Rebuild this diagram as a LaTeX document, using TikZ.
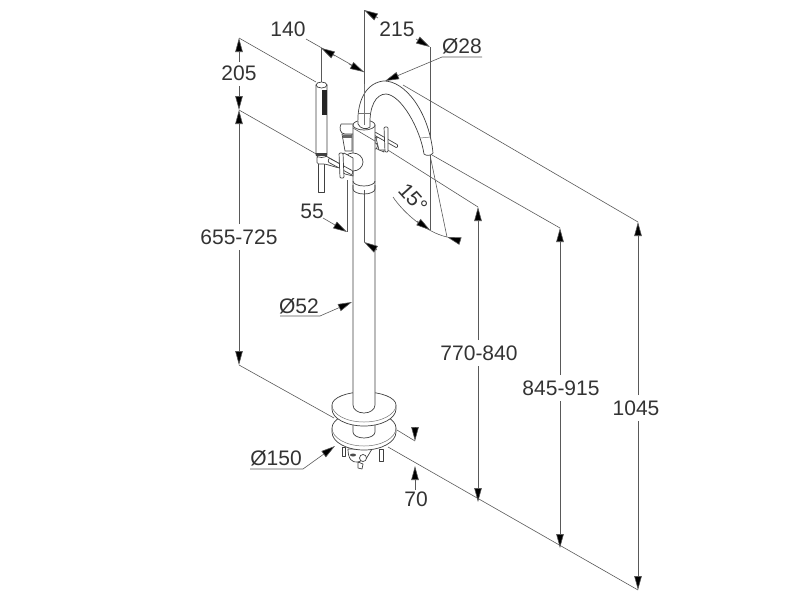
\documentclass[tikz,border=0pt]{standalone}
\usepackage{fontspec}
\setmainfont{Liberation Sans}
\usetikzlibrary{arrows.meta}
\definecolor{ink}{gray}{0.2}
\tikzset{
  dimline/.style={draw=black!65,line width=0.6pt},
  tip/.style={-{Triangle[length=14pt,width=7.5pt,fill=black]}},
  lab/.style={text=ink,font=\fontsize{21}{22}\selectfont,inner sep=0pt},
  part/.style={draw=black!75,line width=0.7pt,fill=white,line join=round},
  edge/.style={draw=black!75,line width=0.7pt},
  thin part/.style={draw=black!55,line width=0.5pt}
}
\begin{document}
\begin{tikzpicture}[x=1pt,y=-1pt]
\useasboundingbox (0,0) rectangle (800,600);
% labels
\node[lab] (t140) at (288,29) {140};
\node[lab] (t215) at (397,29) {215};
\node[lab] (t28) at (462,46) {Ø28};
\node[lab] (t205) at (239,73) {205};
\node[lab] (t655) at (239,237) {655-725};
\node[lab] (t55) at (312,211) {55};
\node[lab] (t52) at (299,306) {Ø52};
\node[lab] (t770) at (479,353) {770-840};
\node[lab] (t845) at (561,388) {845-915};
\node[lab] (t1045) at (636,408) {1045};
\node[lab] (t150) at (276,458) {Ø150};
\node[lab] (t70) at (416,499) {70};
\node[lab,rotate=-48] (t15) at (413,198) {15°};
% coordinates
\coordinate (a) at (239,38);
\coordinate (b) at (239,110);
\coordinate (c) at (239,365);
\coordinate (p1) at (478,207);
\coordinate (p2) at (478,502);
\coordinate (q1) at (560,228);
\coordinate (q2) at (560,548);
\coordinate (r1) at (638,222);
\coordinate (r2) at (638,590);
% extension lines
\draw[dimline] (a) -- (316,82);
\draw[dimline] (b) -- (318,155);
\draw[dimline] (353,128) -- (p1);
\draw[dimline] (c) -- (334,418);
\draw[dimline] (388,447) -- (r2);
\draw[dimline] (403,85) -- (r1);
\draw[dimline] (432,155) -- (q1);
\draw[dimline] (397,430) -- (415,441);
% vertical dimensions
\draw[dimline,tip] (239,62) -- (a);
\draw[dimline,tip] (239,86) -- (b);
\draw[dimline,tip] (239,224) -- (b);
\draw[dimline,tip] (239,250) -- (c);
\draw[dimline,tip] (478,340) -- (p1);
\draw[dimline,tip] (478,366) -- (p2);
\draw[dimline,tip] (560,375) -- (q1);
\draw[dimline,tip] (560,401) -- (q2);
\draw[dimline,tip] (638,395) -- (r1);
\draw[dimline,tip] (638,421) -- (r2);
% iso dims top
\coordinate (k1) at (321,48);
\coordinate (k2) at (364,72);
\coordinate (m1) at (364,10);
\coordinate (m2) at (430,47);
\coordinate (n1) at (430,230);
\coordinate (n2) at (447,237);
\draw[dimline] (306,39) -- (k2);
\draw[dimline,tip] (335,56) -- (k1);
\draw[dimline,tip] (349,64) -- (k2);
\draw[dimline] (k1) -- (321,82);
\draw[dimline] (m1) -- (364,120);
\draw[dimline,tip] (378,18) -- (m1);
\draw[dimline,tip] (416,39) -- (m2);
\draw[dimline] (m2) -- (n1);
\draw[dimline] (430,155) -- (n2);
% 15 degree arc
\draw[dimline] (393,197) .. controls (403,212) and (425,232) .. (n2);
\draw[dimline,tip] (417,221) -- (n1);
\draw[dimline,tip] (460,241) -- (n2);
% leaders
\draw[dimline,tip] (482,57) -- (442,57) -- (385,81);
\draw[dimline,tip] (323,218) -- (347,232);
\draw[dimline] (347,180) -- (347,232);
\draw[dimline,tip] (280,316) -- (320,316) -- (352,302);
\draw[dimline,tip] (250,469) -- (303,469) -- (335,446);
\draw[dimline,tip] (415,427) -- (415,441);
\draw[dimline,tip] (415,490) -- (415,466);
% studs & fittings below lower disc
\draw[part] (342,447) rectangle (345,456);
\draw[part] (379,449) rectangle (383,461);
\draw[part] (348,449) .. controls (348,459) and (352,463) .. (358,462) -- (366,459) -- (372,449) -- cycle;
\draw[part] (363,458) circle[radius=3.5];
\draw[part] (358,462) -- (363,464) -- (362,469) -- (358,468) -- cycle;
\fill[black!70] (353,455) circle[x radius=3,y radius=1.5];
% base lower disc
\path[part] (332,428) -- (332,432) arc[start angle=180,end angle=0,x radius=32,y radius=18] -- (396,428) arc[start angle=0,end angle=-180,x radius=32,y radius=16] -- cycle;
\draw[thin part] (332,428) arc[start angle=180,end angle=0,x radius=32,y radius=18];
% neck
\path[part] (353,412) -- (353,432) arc[start angle=180,end angle=0,x radius=11,y radius=6] -- (375,412) -- cycle;
% upper disc
\path[part] (332,405) -- (332,409) arc[start angle=180,end angle=0,x radius=32,y radius=17] -- (396,405) arc[start angle=0,end angle=-180,x radius=32,y radius=13] -- cycle;
\draw[thin part] (332,405) arc[start angle=180,end angle=0,x radius=32,y radius=17];
% lower pipe
\path[part] (353,185) -- (353,405) arc[start angle=180,end angle=0,x radius=11,y radius=8] -- (375,185);
% dimension arrow seen on the pipe
\draw[dimline] (364,190) -- (364,242);
\draw[dimline,tip] (377,250) -- (364,242);
% right cross handle
\draw[part] (375,137) -- (384,142) -- (384,152) -- (375,148) -- cycle;
\draw[part] (381,137) .. controls (386,137) and (389,143) .. (386,150) -- (379,150) -- (376,138) -- cycle;
\draw[part,rounded corners=1pt] (375,132) -- (398,145) -- (397,148) -- (374,135) -- cycle;
\draw[part,rounded corners=1pt] (384,127) -- (388,127) -- (388,152) -- (385,152) -- cycle;
\draw[part] (374,146) circle[radius=3.5];
% upper left stub
\draw[part] (342,134) -- (352,134) -- (352,151) -- (345,151) -- cycle;
\draw[part] (341,124) -- (354,124) -- (354,134) -- (345,134) .. controls (340,134) and (339,128) .. (341,124);
\fill[black!60] (343,135) rectangle (352,138);
% body
\path[part] (353,125) -- (353,181) arc[start angle=180,end angle=0,x radius=11,y radius=5] -- (375,125) -- cycle;
\draw[edge] (353,181) -- (353,189) arc[start angle=180,end angle=0,x radius=11,y radius=5] -- (375,181);
\draw[dimline] (353,128) -- (375,141);
\draw[part] (364,125) circle[x radius=11,y radius=5];
% valve and left handle
\draw[part] (353,162) circle[x radius=10,y radius=9];
\draw[part] (344,153) .. controls (338,158) and (338,170) .. (345,174) -- (353,176) -- (353,158) -- cycle;
% hand shower hose and bracket
\draw[part] (318,157) rectangle (324,192);
\draw[part,rounded corners=1.5pt] (317,156) -- (326,156) -- (340,164) -- (339,168) -- (325,164) -- (317,164) -- cycle;
\draw[part,rounded corners=1pt] (329,158) -- (353,171) -- (352,175) -- (328,162) -- cycle;
\draw[part,rounded corners=1pt] (339,153) -- (343,153) -- (344,178) -- (340,178) -- cycle;
% hand shower
\draw[part] (316,85) -- (316,155) arc[start angle=180,end angle=0,x radius=5.5,y radius=2.5] -- (327,85) -- cycle;
\draw[part] (321.5,85) circle[x radius=5.5,y radius=3];
\fill[black!85] (322,90) rectangle (327,115);
\fill[black!75] (316,153) rectangle (327,156);
% spout
\path[part] (358,124) .. controls (357,108) and (362,84) .. (383,81) .. controls (405,80) and (429,112) .. (433,153) .. controls (431,156) and (426,156) .. (424,154) .. controls (420,128) and (401,95) .. (386,94) .. controls (376,94) and (369,106) .. (370,127) .. controls (367,130) and (360,129) .. (358,124) -- cycle;
\draw[thin part] (420,138) -- (431,137);
\draw[thin part] (358,113) -- (370,113);
\draw[thin part] (364,84) -- (364,125);
\end{tikzpicture}
\end{document}
